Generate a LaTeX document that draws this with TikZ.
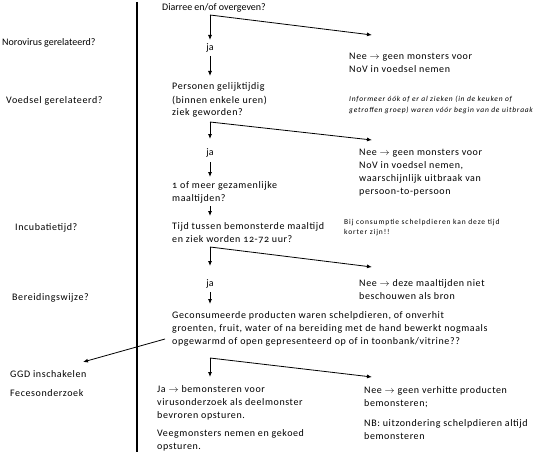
\documentclass[tikz,border=0pt]{standalone}
\usepackage{fontspec}
\setmainfont{Carlito}
\newfontfamily\spacedfont[LetterSpace=6,Numbers=OldStyle]{Carlito}
\newfontfamily\notefont[LetterSpace=10]{Carlito}
\newfontfamily\bijfont[LetterSpace=12]{Carlito}
\usetikzlibrary{arrows.meta}
\begin{document}
\begin{tikzpicture}[x=1pt,y=-1pt,
  txt/.style={anchor=base west,inner sep=0pt,align=left,font=\spacedfont\fontsize{10}{13}\selectfont},
  lbl/.style={anchor=base west,inner sep=0pt,font=\spacedfont\fontsize{10}{13}\selectfont},
  plain/.style={anchor=base west,inner sep=0pt,font=\fontsize{10}{13}\selectfont},
  note/.style={anchor=base west,inner sep=0pt,align=left,font=\notefont\fontsize{7.5}{11}\selectfont\itshape},
  smallnote/.style={anchor=base west,inner sep=0pt,align=left,font=\bijfont\fontsize{7.5}{10}\selectfont},
  ja/.style={anchor=base,inner sep=0pt,font=\fontsize{10}{12}\selectfont},
  arr/.style={-{Latex[length=5pt,width=4pt]},line width=0.8pt}]
\useasboundingbox (0,0) rectangle (544,452);
\clip (0,0) rectangle (544,452);
% vertical rule
\coordinate (rtop) at (137,2);
\coordinate (rbot) at (137,452);
\draw[line width=1.1pt] (rtop) -- (rbot);
% left labels
\node[plain] (l1) at (2,46) {Norovirus gerelateerd?};
\node[lbl] (l2) at (6,103) {Voedsel gerelateerd?};
\node[lbl] (l3) at (15,230) {Incubatietijd?};
\node[lbl] (l4) at (12,300) {Bereidingswijze?};
\node[lbl] (l5) at (10,377) {GGD inschakelen};
\node[lbl] (l6) at (10,396) {Fecesonderzoek};
% main column (base = baseline of last line)
\node[plain] (q1) at (162,11) {Diarree en/of overgeven?};
\node[ja] (ja1) at (210,51) {ja};
\node[txt] (n1) at (349,73) {Nee $\rightarrow$ geen monsters voor\\NoV in voedsel nemen};
\node[txt] (q2) at (172,116) {Personen gelijktijdig\\(binnen enkele uren)\\ziek geworden?};
\node[note] (inf) at (349,113) {Informeer óók of er al zieken (in de keuken of\\getroffen groep) waren vóór begin van de uitbraak};
\node[ja] (ja2) at (210,155) {ja};
\node[txt] (n2) at (359,194) {Nee $\rightarrow$ geen monsters voor\\NoV in voedsel nemen,\\waarschijnlijk uitbraak van\\persoon-to-persoon};
\node[txt] (q3) at (172,201) {1 of meer gezamenlijke\\maaltijden?};
\node[txt] (q4) at (172,242) {Tijd tussen bemonsterde maaltijd\\en ziek worden 12-72 uur?};
\node[smallnote] (bij) at (344,234.5) {Bij consumptie schelpdieren kan deze tijd\\korter zijn!!};
\node[ja] (ja3) at (210,286) {ja};
\node[txt] (n3) at (359,299) {Nee $\rightarrow$ deze maaltijden niet\\beschouwen als bron};
\node[txt] (q5) at (172,344) {Geconsumeerde producten waren schelpdieren, of onverhit\\groenten, fruit, water of na bereiding met de hand bewerkt nogmaals\\opgewarmd of open gepresenteerd op of in toonbank/vitrine??};
\node[txt] (y5) at (157,418) {Ja $\rightarrow$ bemonsteren voor\\virusonderzoek als deelmonster\\bevroren opsturen.};
\node[txt] (veeg) at (157,449) {Veegmonsters nemen en gekoed\\opsturen.};
\node[txt] (n5) at (364,406) {Nee $\rightarrow$ geen verhitte producten\\bemonsteren;};
\node[txt] (nb) at (364,439) {NB: uitzondering schelpdieren altijd\\bemonsteren};
% connectors
\coordinate (c1) at (210,15);
\coordinate (c1d) at (210,40);
\coordinate (c1r) at (372,35);
\draw[arr] (c1) -- (c1d);
\draw[arr] (c1) -- (c1r);
\coordinate (j1a) at (210,56);
\coordinate (j1b) at (210,76);
\draw[arr] (j1a) -- (j1b);
\coordinate (c2) at (210,122);
\coordinate (c2d) at (210,139);
\coordinate (c2r) at (372,140);
\draw[arr] (c2) -- (c2d);
\draw[arr] (c2) -- (c2r);
\coordinate (j2a) at (210,162);
\coordinate (j2b) at (210,177);
\draw[arr] (j2a) -- (j2b);
\coordinate (j3a) at (210,206);
\coordinate (j3b) at (210,216);
\draw[arr] (j3a) -- (j3b);
\coordinate (c3) at (210,247);
\coordinate (c3d) at (210,266);
\coordinate (c3r) at (372,267);
\draw[arr] (c3) -- (c3d);
\draw[arr] (c3) -- (c3r);
\coordinate (j4a) at (210,292);
\coordinate (j4b) at (210,304);
\draw[arr] (j4a) -- (j4b);
\coordinate (g1) at (165,339);
\coordinate (g2) at (83,362);
\draw[arr] (g1) -- (g2);
\coordinate (c4) at (210,358);
\coordinate (c4d) at (210,377);
\coordinate (c4r) at (372,377);
\draw[arr] (c4) -- (c4d);
\draw[arr] (c4) -- (c4r);
\end{tikzpicture}
\end{document}
